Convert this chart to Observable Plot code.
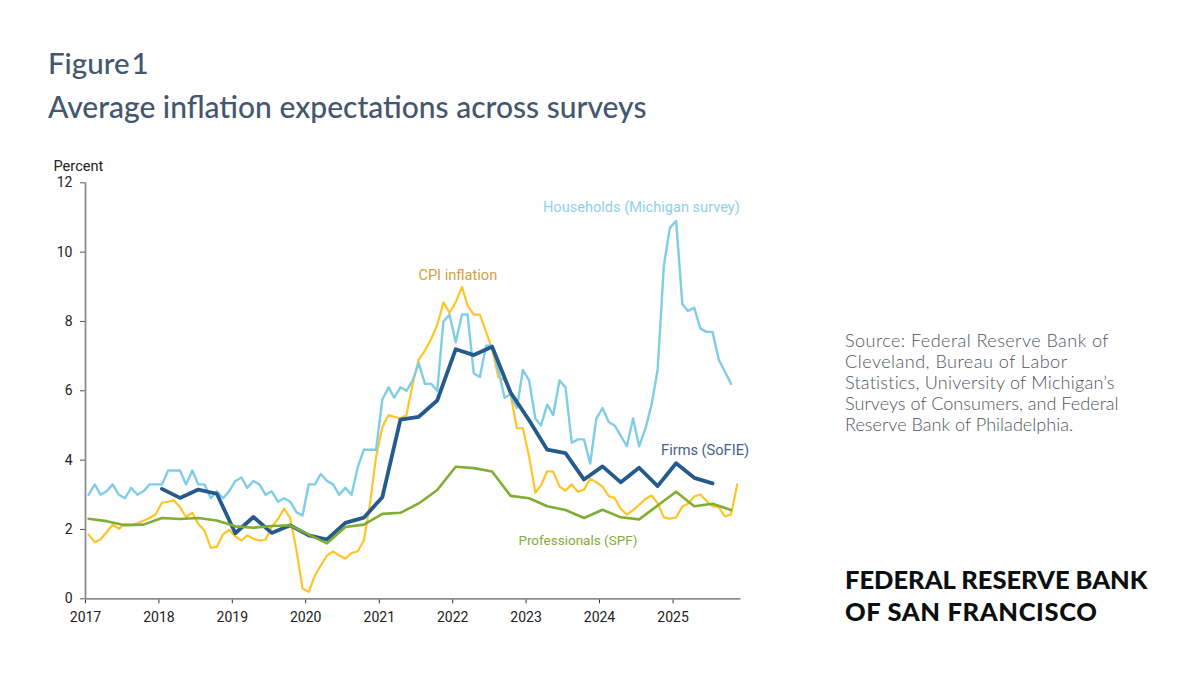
<!DOCTYPE html>
<html><head><meta charset="utf-8">
<script src="https://cdn.jsdelivr.net/npm/d3@7"></script>
<script src="https://cdn.jsdelivr.net/npm/@observablehq/plot@0.6"></script>
<style>
html,body{margin:0;padding:0;background:#fff;width:1200px;height:675px;overflow:hidden}
.t{position:absolute;white-space:nowrap}
#fig{left:48px;top:45px;font:500 29.5px/36px Lato,sans-serif;color:#45566f;word-spacing:-5.5px}
#sub{left:48px;top:88px;font:500 30px/36px Lato,sans-serif;color:#45566f}
#src{left:845px;top:330px;font:300 18.1px/21px Lato,sans-serif;color:#50555e}
#bank{left:845px;top:563px;font:900 25.5px/32px Lato,sans-serif;color:#0b0f10}
#chart{position:absolute;left:0;top:150px}
</style></head><body>
<div class="t" id="fig">Figure 1</div>
<div class="t" id="sub">Average inflation expectations across surveys</div>
<div class="t" id="src"><span style="letter-spacing:.42px">Source: Federal Reserve Bank of</span><br><span style="letter-spacing:.46px">Cleveland, Bureau of Labor</span><br><span style="letter-spacing:.2px">Statistics, University of Michigan’s</span><br>Surveys of Consumers, and Federal<br>Reserve Bank of Philadelphia.</div>
<div class="t" id="bank">FEDERAL RESERVE BANK<br><span style="letter-spacing:.65px">OF SAN FRANCISCO</span></div>
<div id="chart"></div>
<script>
// Monthly series, starting January 2017
const households = [
3.0,3.3,3.0,3.1,3.3,3.0,2.9,3.2,3.0,3.1,3.3,3.3,
3.3,3.7,3.7,3.7,3.3,3.7,3.3,3.3,2.9,3.1,2.9,3.1,
3.4,3.5,3.2,3.4,3.3,3.0,3.1,2.8,2.9,2.8,2.5,2.4,
3.3,3.3,3.6,3.4,3.3,3.0,3.2,3.0,3.8,4.3,4.3,4.3,
5.75,6.1,5.8,6.1,6.0,6.3,6.8,6.2,6.2,6.0,8.0,8.2,
7.4,8.2,8.2,6.5,6.4,7.3,7.3,6.6,5.8,5.9,5.5,6.6,
6.3,5.2,5.0,5.6,5.3,6.3,6.1,4.5,4.6,4.6,3.9,5.2,
5.5,5.1,5.0,4.7,4.4,5.2,4.4,4.9,5.6,6.6,9.6,10.7,
10.9,8.5,8.3,8.4,7.8,7.7,7.7,6.9,6.55,6.2];
const cpi = [
1.86,1.63,1.71,1.92,2.14,2.02,2.16,2.14,2.18,2.25,2.33,2.44,
2.77,2.8,2.84,2.64,2.36,2.48,2.16,1.97,1.47,1.5,1.86,1.99,
1.8,1.68,1.83,1.73,1.68,1.71,2.07,2.3,2.6,2.33,1.4,0.3,
0.2,0.67,0.96,1.25,1.37,1.25,1.16,1.32,1.37,1.68,2.74,4.1,
4.95,5.3,5.25,5.2,5.3,6.2,6.9,7.16,7.5,7.9,8.55,8.25,
8.55,9.0,8.46,8.2,8.2,7.7,7.2,6.4,6.3,5.9,4.92,4.92,
4.1,3.06,3.27,3.68,3.67,3.24,3.12,3.3,3.09,3.15,3.46,3.36,
3.24,2.96,2.91,2.59,2.43,2.56,2.71,2.88,2.98,2.76,2.35,2.31,
2.35,2.66,2.74,2.95,3.01,2.83,2.67,2.64,2.38,2.43,3.3];
// Quarterly series
const firms = [
3.17,2.91,3.15,3.03,1.89,2.36,1.9,2.12,1.83,1.71,2.19,2.34,
2.93,5.17,5.25,5.72,7.2,7.03,7.27,5.95,5.15,4.3,4.2,3.44,
3.82,3.36,3.78,3.25,3.91,3.49,3.33];
const professionals = [
2.31,2.24,2.12,2.14,2.33,2.3,2.33,2.26,2.09,2.05,2.1,2.12,
1.85,1.6,2.07,2.14,2.45,2.48,2.75,3.14,3.81,3.77,3.67,2.97,
2.9,2.67,2.56,2.33,2.57,2.35,2.29,2.69,3.09,2.67,2.74,2.56];
const labelNames = ["Households (Michigan survey)","CPI inflation","Firms (SoFIE)","Professionals (SPF)"];
const labelYears = [2024.57,2022.07,2025.435,2023.705];
const labelValues = [11.28,9.33,4.27,1.67];
const labelColors = ["#8fd2e8","#d29f3f","#46618c","#86aa3a"];
const tickYears = [2017,2018,2019,2020,2021,2022,2023,2024,2025];
const tickValues = [0,2,4,6,8,10,12];
const axisStart = new Date(Date.UTC(2017,0,1));
const axisEnd = new Date(Date.UTC(2025,11,4));

const monthDate = (start, i, step) => new Date(Date.UTC(start, i*step, 16));
const toRows = (vals, startYear, step) => vals.map((v,i)=>({date:monthDate(startYear,i,step),v}));
const yearDate = y => new Date(Date.UTC(Math.floor(y),0,1)+(y-Math.floor(y))*365.25*864e5);
const labels = labelNames.map((name,i)=>({name,date:yearDate(labelYears[i]),v:labelValues[i],c:labelColors[i]}));
const wideLabels = labels.filter(d=>!d.name.startsWith("Professionals"));
const narrowLabels = labels.filter(d=>d.name.startsWith("Professionals"));

const plot = Plot.plot({
  width:1200,height:490,marginLeft:85,marginRight:454,marginTop:32.3,marginBottom:41.7,
  style:{fontFamily:"Roboto",fontSize:"14px",color:"#222",background:"transparent",overflow:"visible"},
  x:{type:"utc",domain:[axisStart,new Date(Date.UTC(2026,0,1))]},
  y:{domain:[0,12]},
  marks:[
    Plot.axisX({ticks:tickYears.map(y=>new Date(Date.UTC(y,0,1))),tickFormat:d=>String(d.getUTCFullYear()),tickSize:5,tickPadding:8,stroke:"#333",label:null,fill:"#222"}),
    Plot.axisY({ticks:tickValues,tickSize:5,tickPadding:8,stroke:"#555",label:null,fill:"#222"}),
    Plot.ruleY([0],{x1:axisStart,x2:axisEnd,stroke:"#8c8c8c",strokeWidth:1.8}),
    Plot.ruleX([axisStart],{y1:0,y2:12,stroke:"#8c8c8c",strokeWidth:1.8}),
    Plot.text(["Percent"],{frameAnchor:"top-left",dx:-32,dy:-22,fill:"#222",fontSize:14.6,textAnchor:"start"}),
    Plot.line(toRows(cpi,2017,1),{x:"date",y:"v",stroke:"#FFC425",strokeWidth:2.2}),
    Plot.line(toRows(households,2017,1),{x:"date",y:"v",stroke:"#7FCDE6",strokeWidth:2.4}),
    Plot.line(toRows(firms,2018,3),{x:"date",y:"v",stroke:"#255A8C",strokeWidth:3.8}),
    Plot.line(toRows(professionals,2017,3),{x:"date",y:"v",stroke:"#7FAE33",strokeWidth:2.6}),
    Plot.text(wideLabels,{x:"date",y:"v",text:"name",fill:"c",fontSize:14.6}),
    Plot.text(narrowLabels,{x:"date",y:"v",text:"name",fill:"c",fontSize:13.5})
  ]
});
document.getElementById("chart").append(plot);
</script>
</body></html>
